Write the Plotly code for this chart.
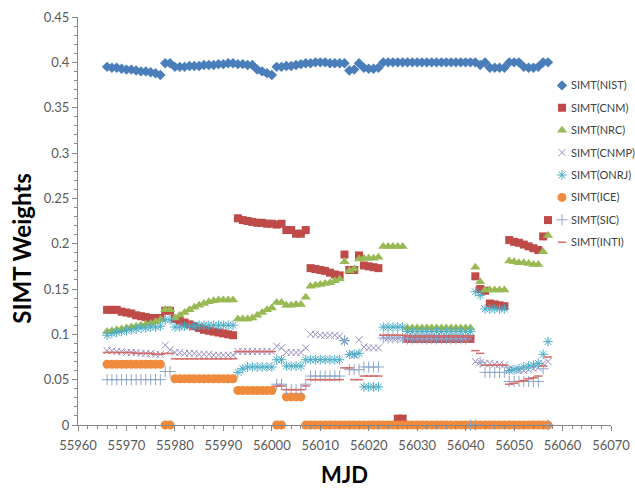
import plotly.graph_objects as go

# ---------------- data ----------------
mjd = [55966, 55967, 55968, 55969, 55970, 55971, 55972, 55973, 55974, 55975,
       55976, 55977, 55978, 55979, 55980, 55981, 55982, 55983, 55984, 55985,
       55986, 55987, 55988, 55989, 55990, 55991, 55992, 55993, 55994, 55995,
       55996, 55997, 55998, 55999, 56000, 56001, 56002, 56003, 56004, 56005,
       56006, 56007, 56008, 56009, 56010, 56011, 56012, 56013, 56014, 56015,
       56016, 56017, 56018, 56019, 56020, 56021, 56022, 56023, 56024, 56025,
       56026, 56027, 56028, 56029, 56030, 56031, 56032, 56033, 56034, 56035,
       56036, 56037, 56038, 56039, 56040, 56041, 56042, 56043, 56044, 56045,
       56046, 56047, 56048, 56049, 56050, 56051, 56052, 56053, 56054, 56055,
       56056, 56057]

nist = [0.395, 0.394, 0.394, 0.393, 0.392, 0.392, 0.391, 0.390, 0.390, 0.389, 0.388, 0.386,
        0.399, 0.399,
        0.395, 0.395, 0.395, 0.396, 0.396, 0.396, 0.397, 0.397, 0.397, 0.398, 0.398, 0.399, 0.399,
        0.398, 0.398, 0.397, 0.397, 0.392, 0.390, 0.388, 0.386,
        0.395, 0.395,
        0.396, 0.396, 0.397, 0.398,
        0.399,
        0.399, 0.400, 0.400, 0.400, 0.399, 0.399, 0.399,
        0.399, 0.391, 0.392, 0.399,
        0.394, 0.393, 0.393, 0.394,
        0.400, 0.400, 0.400, 0.400, 0.400,
        0.400, 0.400, 0.400, 0.400, 0.400, 0.400, 0.400, 0.400, 0.400, 0.400, 0.400, 0.400, 0.400, 0.400,
        0.400, 0.397,
        0.400, 0.394, 0.394, 0.394, 0.394,
        0.400, 0.400, 0.400, 0.395, 0.394, 0.394, 0.395,
        0.400, 0.400]

cnm = [0.127, 0.127, 0.127, 0.125, 0.124, 0.123, 0.121, 0.120, 0.119, 0.118, 0.118, 0.118,
       0.126, 0.126,
       0.117, 0.115, 0.113, 0.111, 0.109, 0.107, 0.105, 0.104, 0.103, 0.102, 0.101, 0.100, 0.099,
       0.228, 0.226, 0.225, 0.224, 0.223, 0.223, 0.222, 0.222,
       0.221, 0.222,
       0.215, 0.215, 0.211, 0.211,
       0.215,
       0.173, 0.172, 0.171, 0.170, 0.168, 0.166, 0.165,
       0.188, 0.171, 0.171, 0.187,
       0.176, 0.175, 0.174, 0.173,
       0.0, 0.0, 0.0, 0.007, 0.007,
       0.095, 0.095, 0.095, 0.095, 0.095, 0.095, 0.095, 0.095, 0.095, 0.095, 0.095, 0.095, 0.095, 0.095,
       0.164, 0.150,
       0.148, 0.134, 0.133, 0.132, 0.131,
       0.204, 0.202, 0.201, 0.199, 0.197, 0.195, 0.193,
       0.208, 0.226]

nrc = [0.103, 0.104, 0.105, 0.106, 0.107, 0.108, 0.109, 0.110, 0.111, 0.112, 0.114, 0.116,
       0.127, 0.127,
       0.118, 0.121, 0.124, 0.127, 0.130, 0.132, 0.134, 0.136, 0.137, 0.138, 0.138, 0.138, 0.138,
       0.117, 0.117, 0.117, 0.118, 0.121, 0.124, 0.127, 0.129,
       0.135, 0.135,
       0.132, 0.132, 0.133, 0.133,
       0.141,
       0.153, 0.154, 0.155, 0.156, 0.157, 0.159, 0.161,
       0.180, 0.170, 0.172, 0.183,
       0.184, 0.184, 0.184, 0.185,
       0.197, 0.197, 0.197, 0.197, 0.197,
       0.107, 0.107, 0.107, 0.107, 0.107, 0.107, 0.107, 0.107, 0.107, 0.107, 0.107, 0.107, 0.107, 0.107,
       0.174, 0.158,
       0.149, 0.149, 0.149, 0.149, 0.149,
       0.181, 0.180, 0.179, 0.179, 0.178, 0.177, 0.177,
       0.191, 0.209]

cnmp = [0.082, 0.082, 0.081, 0.081, 0.080, 0.080, 0.080, 0.079, 0.079, 0.079, 0.078, 0.078,
        0.088, 0.083,
        0.080, 0.080, 0.079, 0.079, 0.079, 0.078, 0.078, 0.078, 0.077, 0.077, 0.077, 0.077, 0.077,
        0.081, 0.081, 0.081, 0.081, 0.081, 0.081, 0.081, 0.081,
        0.087, 0.085,
        0.080, 0.080, 0.080, 0.080,
        0.085,
        0.100, 0.100, 0.099, 0.099, 0.099, 0.099, 0.098,
        0.092, 0.078, 0.077, 0.094,
        0.086, 0.085, 0.085, 0.085,
        0.097, 0.096, 0.096, 0.096, 0.095,
        0.095, 0.095, 0.095, 0.095, 0.095, 0.095, 0.095, 0.095, 0.095, 0.095, 0.095, 0.095, 0.095, 0.095,
        0.070, 0.069,
        0.068, 0.068, 0.067, 0.067, 0.066,
        0.062, 0.061, 0.060, 0.060, 0.061, 0.062, 0.063,
        0.068, 0.070]

onrj = [0.099, 0.101, 0.102, 0.103, 0.104, 0.105, 0.106, 0.107, 0.107, 0.108, 0.108, 0.109,
        0.116, 0.116,
        0.108, 0.108, 0.109, 0.109, 0.109, 0.110, 0.110, 0.110, 0.110, 0.110, 0.110, 0.110, 0.110,
        0.058, 0.062, 0.064, 0.064, 0.064, 0.064, 0.064, 0.064,
        0.072, 0.072,
        0.065, 0.065, 0.065, 0.065,
        0.072,
        0.072, 0.072, 0.072, 0.072, 0.072, 0.072, 0.072,
        0.093, 0.078, 0.078, 0.079,
        0.042, 0.042, 0.042, 0.042,
        0.108, 0.108, 0.108, 0.108, 0.108,
        0.103, 0.103, 0.103, 0.103, 0.103, 0.103, 0.103, 0.103, 0.103, 0.103, 0.103, 0.103, 0.103, 0.103,
        0.147, 0.143,
        0.128, 0.128, 0.128, 0.128, 0.128,
        0.060, 0.061, 0.062, 0.064, 0.065, 0.066, 0.068,
        0.078, 0.092]

ice = [0.067, 0.067, 0.067, 0.067, 0.067, 0.067, 0.067, 0.067, 0.067, 0.067, 0.067, 0.067,
       0.0, 0.0,
       0.051, 0.051, 0.051, 0.051, 0.051, 0.051, 0.051, 0.051, 0.051, 0.051, 0.051, 0.051, 0.051,
       0.038, 0.038, 0.038, 0.038, 0.038, 0.038, 0.038, 0.038,
       0.0, 0.0,
       0.031, 0.031, 0.031, 0.031,
       0.0,
       0.0, 0.0, 0.0, 0.0, 0.0, 0.0, 0.0,
       0.0, 0.0, 0.0, 0.0,
       0.0, 0.0, 0.0, 0.0,
       0.0, 0.0, 0.0, 0.0, 0.0,
       0.0, 0.0, 0.0, 0.0, 0.0, 0.0, 0.0, 0.0, 0.0, 0.0, 0.0, 0.0, 0.0, 0.0,
       0.0, 0.0,
       0.0, 0.0, 0.0, 0.0, 0.0,
       0.0, 0.0, 0.0, 0.0, 0.0, 0.0, 0.0,
       0.0, 0.0]

sic = [0.050, 0.050, 0.050, 0.050, 0.050, 0.050, 0.050, 0.050, 0.050, 0.050, 0.050, 0.050,
       0.059, 0.059,
       None, None, None, None, None, None, None, None, None, None, None, None, None,
       None, None, None, None, None, None, None, None,
       0.045, 0.045,
       0.039, 0.039, 0.039, 0.039,
       0.045,
       0.054, 0.054, 0.054, 0.054, 0.054, 0.054, 0.054,
       0.093, 0.061, 0.061, 0.061,
       0.064, 0.064, 0.064, 0.064,
       0.096, 0.096, 0.096, 0.096, 0.096,
       0.095, 0.095, 0.095, 0.095, 0.095, 0.095, 0.095, 0.095, 0.095, 0.095, 0.095, 0.095, 0.095, 0.0,
       0.0, 0.069,
       0.058, 0.058, 0.058, 0.058, 0.058,
       0.048, 0.048, 0.048, 0.048, 0.048, 0.048, 0.048,
       0.062, 0.0]

inti = [0.080, 0.080, 0.080, 0.080, 0.080, 0.080, 0.079, 0.079, 0.079, 0.079, 0.078, 0.078,
        0.079, 0.079,
        0.073, 0.073, 0.073, 0.073, 0.073, 0.073, 0.073, 0.073, 0.073, 0.073, 0.073, 0.073, 0.073,
        0.081, 0.081, 0.081, 0.081, 0.081, 0.081, 0.081, 0.081,
        0.043, 0.043,
        0.039, 0.039, 0.039, 0.039,
        0.043,
        0.050, 0.050, 0.050, 0.050, 0.050, 0.050, 0.050,
        0.063, 0.063, 0.050, 0.050,
        0.054, 0.054, 0.054, 0.054,
        0.099, 0.099, 0.099, 0.099, 0.099,
        0.098, 0.098, 0.098, 0.098, 0.098, 0.098, 0.098, 0.098, 0.098, 0.098, 0.098, 0.098, 0.098, 0.098,
        0.082, 0.079,
        0.066, 0.066, 0.066, 0.066, 0.066,
        0.045, 0.046, 0.048, 0.049, 0.051, 0.052, 0.054,
        0.065, 0.075]

series_names = ["SIMT(NIST)", "SIMT(CNM)", "SIMT(NRC)", "SIMT(CNMP)",
                "SIMT(ONRJ)", "SIMT(ICE)", "SIMT(SIC)", "SIMT(INTI)"]
series_values = [nist, cnm, nrc, cnmp, onrj, ice, sic, inti]

x_ticks = [55960, 55970, 55980, 55990, 56000, 56010, 56020, 56030, 56040, 56050, 56060, 56070]
y_ticks = [0, 0.05, 0.1, 0.15, 0.2, 0.25, 0.3, 0.35, 0.4, 0.45]

# ---------------- styles ----------------
styles = [
    dict(symbol="diamond", color="#4a7ebb", size=8, lw=0),
    dict(symbol="square", color="#be4b48", size=8, lw=0),
    dict(symbol="triangle-up", color="#98b954", size=9, lw=0),
    dict(symbol="x-thin-open", color="#9a8cc0", size=7, lw=1),
    dict(symbol="asterisk-open", color="#4bacc6", size=8, lw=1),
    dict(symbol="circle", color="#f08a3c", size=9, lw=0),
    dict(symbol="cross-thin-open", color="#8ea6c8", size=8, lw=1),
    dict(symbol="line-ew-open", color="#d46c6a", size=6, lw=1.5),
]

FONT = "Lato, 'Open Sans', sans-serif"

W, H = 635, 492
L, R, T, B = 78, 24, 17, 66.5
pw, ph = W - L - R, H - T - B


def px_x(p):
    return (p - L) / pw


def px_y(p):
    return (H - B - p) / ph


fig = go.Figure()
for name, vals, st in zip(series_names, series_values, styles):
    mk = dict(symbol=st["symbol"], color=st["color"], size=st["size"])
    mk["line"] = dict(color=st["color"], width=st["lw"])
    fig.add_trace(go.Scatter(x=mjd, y=vals, mode="markers", name=name,
                             marker=mk, cliponaxis=False, showlegend=False))

# legend symbols (library legend, names written beside them as text)
legend_annots = []
LEG_TOP = 85
LEG_STEP = 22.4
MARK_X = 562
TEXT_X = 569
for k, (name, st) in enumerate(zip(series_names, styles)):
    mk = dict(symbol=st["symbol"], color=st["color"], size=st["size"],
              line=dict(color=st["color"], width=st["lw"]))
    fig.add_trace(go.Scatter(x=[None], y=[None], mode="markers", name="",
                             legendgroup="g%d" % k, marker=mk, showlegend=True,
                             hoverinfo="skip"))
    legend_annots.append(dict(text=name, xref="paper", yref="paper",
                              x=px_x(TEXT_X), y=px_y(LEG_TOP + k * LEG_STEP),
                              xanchor="left", yanchor="middle", showarrow=False,
                              font=dict(family=FONT, size=11, color="#404040")))

axis_common = dict(showgrid=False, zeroline=False, showline=True, linecolor="#868686",
                   linewidth=1, ticks="outside", ticklen=5, tickcolor="#868686",
                   tickfont=dict(family=FONT, size=13, color="#595959"))

fig.update_layout(
    width=W, height=H,
    margin=dict(l=L, r=R, t=T, b=B, autoexpand=False),
    paper_bgcolor="white", plot_bgcolor="white",
    font=dict(family=FONT),
    xaxis=dict(range=[55960, 56070], tickvals=x_ticks, tickformat="d",
               ticklabelstandoff=3,
               minor=dict(dtick=2, ticks="outside", ticklen=3, tickcolor="#868686"),
               **axis_common),
    yaxis=dict(range=[0, 0.45], tickvals=y_ticks,
               ticktext=[("%g" % v) for v in y_ticks],
               minor=dict(dtick=0.01, ticks="outside", ticklen=3, tickcolor="#868686"),
               **axis_common),
    legend=dict(x=px_x(MARK_X - 20), y=px_y(LEG_TOP - 14.5), xanchor="left", yanchor="top",
                bgcolor="rgba(0,0,0,0)", font=dict(family=FONT, size=13, color="#404040"),
                traceorder="grouped", tracegroupgap=2.5, itemwidth=30),
    showlegend=True,
    annotations=legend_annots + [
        dict(text="<b>SIMT Weights</b>", xref="paper", yref="paper",
             x=px_x(22), y=px_y(248), textangle=-90, showarrow=False,
             font=dict(family=FONT, size=24, color="#000000"), xanchor="center", yanchor="middle"),
        dict(text="<b>MJD</b>", xref="paper", yref="paper",
             x=px_x(344), y=px_y(475), showarrow=False,
             font=dict(family=FONT, size=22, color="#000000"), xanchor="center", yanchor="middle"),
    ],
)

fig.write_html("out.html", config={"displayModeBar": False},
               post_script="document.body.style.margin='0px';")
